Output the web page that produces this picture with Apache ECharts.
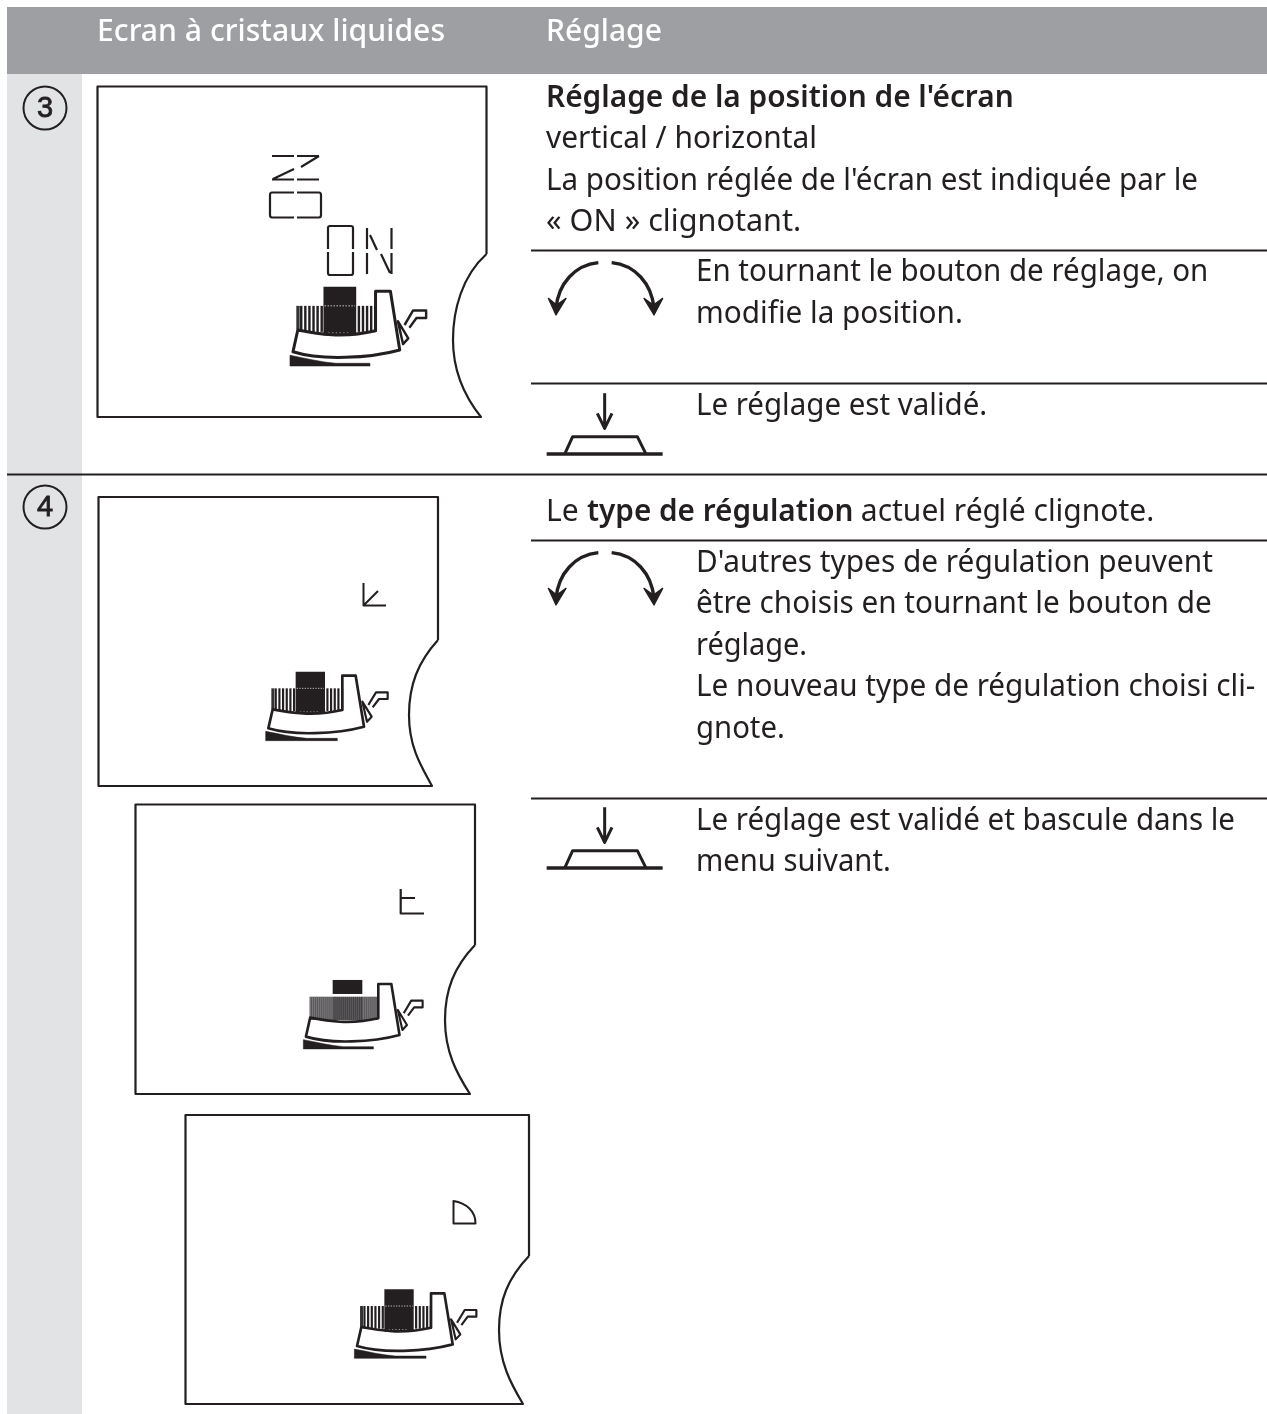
<!DOCTYPE html>
<html><head><meta charset="utf-8">
<style>html,body{margin:0;padding:0;background:#fff}#c{width:1267px;height:1414px}</style>
<script src="https://cdn.jsdelivr.net/npm/echarts@6/dist/echarts.min.js"></script>
</head><body><div id="c"></div>
<script>
const headers = ["Ecran à cristaux liquides", "Réglage"];
const stepNumbers = ["3", "4"];
const step3Title = "Réglage de la position de l'écran";
const step3Lines = ["vertical / horizontal", "La position réglée de l'écran est indiquée par le", "« ON » clignotant."];
const step3Turn = ["En tournant le bouton de réglage, on", "modifie la position."];
const step3Press = ["Le réglage est validé."];
const step4Intro = ["Le ", "type de régulation", " actuel réglé clignote."];
const step4Turn = ["D'autres types de régulation peuvent", "être choisis en tournant le bouton de", "réglage.", "Le nouveau type de régulation choisi cli-", "gnote."];
const step4Press = ["Le réglage est validé et bascule dans le", "menu suivant."];

const FONT = '"Noto Sans","Open Sans",sans-serif';
const INK = '#231f20';
const BASE = 24;
const els = [];
let shapeId = 0;
function pathEl(d, style) {
  const name = 'p' + (shapeId++);
  echarts.graphic.registerShape(name, echarts.graphic.extendPath(d, {}));
  return {type:name, shape:{}, style:Object.assign({fill:'none', stroke:INK, lineWidth:1.7, lineJoin:'round'}, style||{}), silent:true};
}
const rect = (x, y, w, h, fill) => els.push({type:'rect', shape:{x, y, width:w, height:h}, style:{fill}, silent:true});
const line = (x1, y1, x2, y2, w) => els.push({type:'line', shape:{x1, y1, x2, y2}, style:{stroke:INK, lineWidth:w||2}, silent:true});
const txt = (s, x, y, o) => els.push({type:'text', x, y:y-BASE, silent:true, scaleX:(o&&o.sx)||1, style:{text:s, x:0, y:0, fill:(o&&o.fill)||INK,
  font:((o&&o.weight)||'400')+' '+((o&&o.size)||30)+'px '+FONT}});
const path = (d, o) => els.push(pathEl(d, o));

// backgrounds
rect(7, 7, 1260, 67, '#9d9fa2');
rect(7, 74, 75, 1340, '#e2e3e5');
line(7, 474.5, 1267, 474.5, 2);
[250, 383, 540, 798].forEach(y => line(531, y + .5, 1267, y + .5, 2));

// headers
txt(headers[0], 97, 41, {fill:'#fff', weight:'500', sx:1.006});
txt(headers[1], 546, 41, {fill:'#fff', weight:'500'});

// step numbers
[[45,108],[45,507]].forEach((p,i) => {
  els.push({type:'circle', shape:{cx:p[0], cy:p[1], r:21.5}, style:{fill:'none', stroke:INK, lineWidth:2}, silent:true});
  els.push({type:'text', x:p[0], y:p[1]+1, silent:true, style:{text:stepNumbers[i], fill:INK, stroke:INK, lineWidth:.8, font:'500 29px "Liberation Sans",sans-serif', align:'center', verticalAlign:'middle'}});
});

// LCD panels
function panel(l, t, r, b, bx, ay, lx, my) {
  path(`M${r},${ay} L${r},${t} L${l},${t} L${l},${b} L${bx},${b} C${lx+12},${b-20} ${lx},${my+32} ${lx},${my} C${lx},${my-30} ${lx+9},${ay+22} ${r},${ay}`, {lineWidth:2.2});
}
panel(97.5, 86.5, 486.5, 417, 481, 254, 453, 340);
panel(98.5, 497, 438, 786, 432, 640, 409, 715);
panel(135.5, 804.5, 475, 1094, 470, 945, 445, 1020);
panel(185.5, 1115, 529, 1404, 523, 1256, 499, 1330);

// segment glyphs, step 3
path('M272,156H294M297,156H319M319,156L301,167M294,169L273,179M272,179.5H294M297,179.5H319', {lineWidth:2.2});
path('M294,192.5H272Q270,192.5 270,195V215Q270,217.5 272,217.5H294M297,192.5H319Q321,192.5 321,195V215Q321,217.5 319,217.5H297', {lineWidth:2.2});
path('M330,226H351Q353,226 353,228V249M353,252V273Q353,275 351,275H330Q328,275 328,273V252M328,249V228Q328,226 330,226', {lineWidth:2.2});
path('M367,228V249M367,253V274M391.5,228V249M391.5,253V274M370,235L377,250M381,254L390,273', {lineWidth:2.2});
// mode glyphs, step 4
path('M363.5,583V605.5H386M363.5,605.5L378,591', {lineWidth:2});
path('M400.7,889V913.5H424M400.7,898H415', {lineWidth:2.2});
path('M453.5,1201V1223.5H475.5C475.5,1211 466,1203 453.5,1201Z', {lineWidth:2});

// adjustment knob icon (local units)
function icon(x0, y0, sx, sy, mode) {
  const c = [];
  const p = (d, style) => c.push(pathEl(d, Object.assign({lineWidth:5}, style||{})));
  const r = (x,y,w,h,fill) => c.push({type:'rect', shape:{x,y,width:w,height:h}, style:{fill}, silent:true});
  if (mode === 'dense') {
    r(66, 85, 210, 70, '#5a585a');
    for (let t = 68; t < 276; t += 6) r(t, 85, 2, 70, t > 135 && t < 225 ? '#3c3a3c' : '#8a888a');
    r(137, 35, 91, 42, INK);
  } else {
    for (let t = 74; t < 137; t += 11) r(t, 85, 6.5, 68, INK);
    for (let t = 229; t < 276; t += 11) r(t, 85, 6.5, 68, INK);
    r(64, 85, 9, 62, '#333');
    r(137, 35, 88, 127, INK);
    p('M140,85H222', {stroke:'#fff', lineWidth:2, lineDash:[4,4]});
    p('M150,156H205', {stroke:'#fff', lineWidth:2, lineDash:[4,6]});
  }
  p('M68,148 C120,158 190,170 277,150 L277,47 L317,47 L342,200 C260,222 130,228 55,205 Z', {lineWidth:8});
  p('M47,214 C90,222 130,232 170,235 L262,235 L262,242 L47,242 Z', {fill:INK, lineWidth:1.5});
  p('M337,125 L365,170 L351,185 Z', {lineWidth:6.5});
  p('M355,135 L378,97 L413,97 L413,117 L387,117 L368,142', {lineWidth:6.5});
  els.push({type:'group', x:x0, y:y0, scaleX:sx, scaleY:sy, silent:true, children:c});
}
icon(272.5, 273.3, .372, .383, 'normal');
icon(250, 660, 1/3, 1/3, 'normal');
icon(288, 968.3, .326, 1/3, 'dense');
icon(338.7, 1277.7, 1/3, 1/3, 'normal');

// turn and press symbols (local units)
function turnSym(dy) {
  els.push({type:'group', x:530, y:240+dy, scaleX:1/3, scaleY:1/3, silent:true, children:[
    pathEl('M205,68 C135,75 85,130 78,205 M245,68 C315,75 365,130 372,205', {lineWidth:10}),
    pathEl('M55,175 L78,225 L108,175 L80,195 Z M342,175 L372,225 L398,175 L370,195 Z', {lineWidth:4, fill:INK})
  ]});
}
function pressSym(dy) {
  els.push({type:'group', x:530, y:240+dy, scaleX:1/3, scaleY:1/3, silent:true, children:[
    pathEl('M224,460V562 M202,520 L224,565 L246,520 M105,640 L128,590 H322 L347,640', {lineWidth:9}),
    pathEl('M50,642 H398', {lineWidth:11})
  ]});
}
turnSym(0); pressSym(0); turnSym(290); pressSym(414);

// body text
txt(step3Title, 546, 107, {weight:'600', sx:.994});
[148,190,231].forEach((y,i) => txt(step3Lines[i], 546, y, {sx:[.997,.985,1.02][i]}));
[281,323].forEach((y,i) => txt(step3Turn[i], 696, y, {sx:[.983,.99][i]}));
txt(step3Press[0], 696, 415, {sx:.983});
txt(step4Intro[0], 546, 521);
txt(step4Intro[1], 587, 521, {weight:'600', sx:.99});
txt(step4Intro[2], 853, 521);
[572,613,655,696,738].forEach((y,i) => txt(step4Turn[i], 696, y, {sx:[.994,.989,.965,.99,.977][i]}));
[830,871].forEach((y,i) => txt(step4Press[i], 696, y, {sx:[.985,.974][i]}));

const chart = echarts.init(document.getElementById('c'), null, {width:1267, height:1414});
chart.setOption({animation:false, backgroundColor:'#fff', graphic:{elements:els}});
</script></body></html>
